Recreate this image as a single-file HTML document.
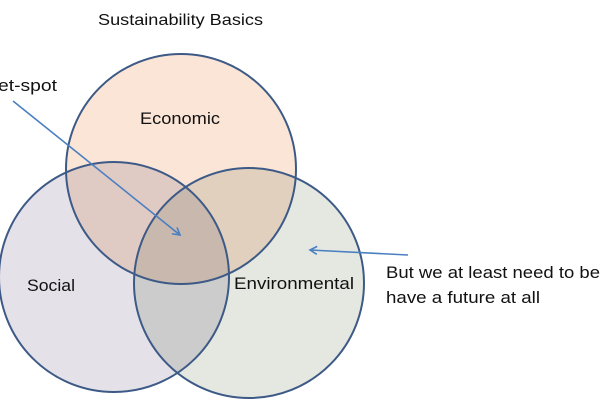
<!DOCTYPE html>
<html><head><style>
html,body{margin:0;padding:0;background:#fff;width:600px;height:400px;overflow:hidden}
svg{display:block}
text{font-family:"Liberation Sans",sans-serif;fill:#111}
.c{mix-blend-mode:multiply}
</style></head><body>
<svg width="600" height="400" viewBox="0 0 600 400">
<defs><marker id="a" markerWidth="10" markerHeight="10" refX="8" refY="5" orient="auto" markerUnits="userSpaceOnUse"><path d="M1,1 L8,5 L1,9" fill="none" stroke="#4a7fc1" stroke-width="1.6"/></marker></defs>
<text x="98" y="25" font-size="16" textLength="165" lengthAdjust="spacingAndGlyphs">Sustainability Basics</text>
<g>
<circle class="c" cx="181" cy="169" r="115" fill="#fbe5d7"/>
<circle class="c" cx="114" cy="277" r="115" fill="#e4e1e9"/>
<circle class="c" cx="249" cy="283" r="115" fill="#e4e8e1"/>
</g>
<circle cx="181" cy="169" r="115" fill="none" stroke="#3d5a87" stroke-width="2"/>
<circle cx="114" cy="277" r="115" fill="none" stroke="#3d5a87" stroke-width="2"/>
<circle cx="249" cy="283" r="115" fill="none" stroke="#3d5a87" stroke-width="2"/>
<text x="-2" y="91" font-size="17" textLength="59" lengthAdjust="spacingAndGlyphs">et-spot</text>
<text x="140" y="124" font-size="17" textLength="80" lengthAdjust="spacingAndGlyphs">Economic</text>
<text x="27" y="291" font-size="17" textLength="48" lengthAdjust="spacingAndGlyphs">Social</text>
<text x="234" y="289" font-size="17" textLength="120" lengthAdjust="spacingAndGlyphs">Environmental</text>
<text x="386" y="278" font-size="17" textLength="214" lengthAdjust="spacingAndGlyphs">But we at least need to be</text>
<text x="386" y="303" font-size="17" textLength="154" lengthAdjust="spacingAndGlyphs">have a future at all</text>
<line x1="13" y1="101" x2="180" y2="235" stroke="#4a7fc1" stroke-width="1.6" marker-end="url(#a)"/>
<line x1="408" y1="255" x2="310" y2="250" stroke="#4a7fc1" stroke-width="1.6" marker-end="url(#a)"/>
</svg>
</body></html>
